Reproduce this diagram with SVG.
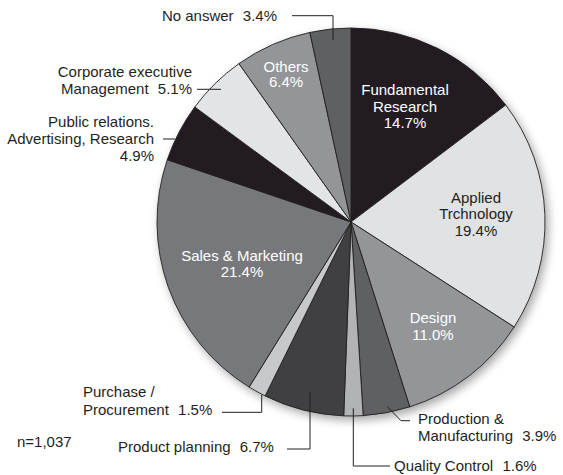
<svg xmlns="http://www.w3.org/2000/svg" width="563" height="475" viewBox="0 0 563 475">
<style>
  .lbl { font-family: "Liberation Sans", Arial, sans-serif; font-size: 15px; fill: #231f20; }
  .in { fill: #ffffff; }
  .end { text-anchor: end; }
  .mid { text-anchor: middle; }
  .slice { stroke: #231f20; stroke-width: 0.9; stroke-linejoin: round; }
  .leader { fill: none; stroke: #231f20; stroke-width: 1; }
</style>
<defs>
  <filter id="shadow" x="-10%" y="-10%" width="125%" height="125%">
    <feGaussianBlur in="SourceAlpha" stdDeviation="5"/>
    <feOffset dx="3" dy="4" result="b"/>
    <feComponentTransfer><feFuncA type="linear" slope="0.35"/></feComponentTransfer>
    <feMerge><feMergeNode/><feMergeNode in="SourceGraphic"/></feMerge>
  </filter>
</defs>
<rect width="563" height="475" fill="#ffffff"/>
<g id="pie" filter="url(#shadow)">
  <g id="fundamental-research"><path class="slice" fill="#231f20" d="M351,222 L351,28 A194,194 0 0 1 505.76,105.02 Z"/></g>
  <g id="applied-technology"><path class="slice" fill="#e1e2e3" d="M351,222 L505.76,105.02 A194,194 0 0 1 514.15,327 Z"/></g>
  <g id="design"><path class="slice" fill="#939598" d="M351,222 L514.15,327 A194,194 0 0 1 409.78,406.88 Z"/></g>
  <g id="production-manufacturing"><path class="slice" fill="#5f6062" d="M351,222 L409.78,406.88 A194,194 0 0 1 363.18,415.62 Z"/></g>
  <g id="quality-control"><path class="slice" fill="#b1b3b6" d="M351,222 L363.18,415.62 A194,194 0 0 1 343.69,415.86 Z"/></g>
  <g id="product-planning"><path class="slice" fill="#414042" d="M351,222 L343.69,415.86 A194,194 0 0 1 265.1,395.9 Z"/></g>
  <g id="purchase-procurement"><path class="slice" fill="#c7c8ca" d="M351,222 L265.1,395.9 A194,194 0 0 1 249.15,387.1 Z"/></g>
  <g id="sales-marketing"><path class="slice" fill="#77787b" d="M351,222 L249.15,387.1 A194,194 0 0 1 167.26,159.74 Z"/></g>
  <g id="public-relations"><path class="slice" fill="#231f20" d="M351,222 L167.26,159.74 A194,194 0 0 1 194.8,107 Z"/></g>
  <g id="corporate-executive"><path class="slice" fill="#e3e4e5" d="M351,222 L194.8,107 A194,194 0 0 1 238.95,63.64 Z"/></g>
  <g id="others"><path class="slice" fill="#939598" d="M351,222 L238.95,63.64 A194,194 0 0 1 309.87,32.4 Z"/></g>
  <g id="no-answer"><path class="slice" fill="#5f6062" d="M351,222 L309.87,32.4 A194,194 0 0 1 351,28 Z"/></g>
</g>
<g id="connectors">
  <path class="leader" d="M292,15.7 H333 V40"/>
  <path class="leader" d="M197,89.3 H221"/>
  <path class="leader" d="M163,139 H175"/>
  <path class="leader" d="M222,412.3 H261.7 V395"/>
  <path class="leader" d="M287,449 H310 V391.7"/>
  <path class="leader" d="M410,420.7 H401 L387.3,406.7"/>
  <path class="leader" d="M390,466 H353.3 V408.3"/>
</g>
<g id="labels">
  <text class="lbl end" x="277" y="21">No answer <tspan dx="5">3.4%</tspan></text>
  <text class="lbl end" x="192" y="77">Corporate executive</text>
  <text class="lbl end" x="192" y="94">Management <tspan dx="5">5.1%</tspan></text>
  <text class="lbl end" x="154" y="126.7">Public relations.</text>
  <text class="lbl end" x="154" y="144">Advertising, Research</text>
  <text class="lbl end" x="154" y="161">4.9%</text>
  <text class="lbl in mid" x="286" y="71.7">Others</text>
  <text class="lbl in mid" x="286" y="87.3">6.4%</text>
  <text class="lbl in mid" x="405" y="95">Fundamental</text>
  <text class="lbl in mid" x="405" y="111.7">Research</text>
  <text class="lbl in mid" x="405" y="128.3">14.7%</text>
  <text class="lbl mid" x="476" y="202.7">Applied</text>
  <text class="lbl mid" x="476" y="219.3">Trchnology</text>
  <text class="lbl mid" x="476" y="235.7">19.4%</text>
  <text class="lbl in mid" x="242" y="260.7">Sales &amp; Marketing</text>
  <text class="lbl in mid" x="242" y="276.7">21.4%</text>
  <text class="lbl in mid" x="433" y="323.3">Design</text>
  <text class="lbl in mid" x="433" y="340">11.0%</text>
  <text class="lbl" x="83" y="397.3">Purchase /</text>
  <text class="lbl" x="83" y="415">Procurement <tspan dx="5">1.5%</tspan></text>
  <text class="lbl" x="17" y="446.7">n=1,037</text>
  <text class="lbl" x="118" y="451.7">Product planning <tspan dx="5">6.7%</tspan></text>
  <text class="lbl" x="418" y="424">Production &amp;</text>
  <text class="lbl" x="418" y="440.7">Manufacturing <tspan dx="5">3.9%</tspan></text>
  <text class="lbl" x="394" y="470.7">Quality Control <tspan dx="5">1.6%</tspan></text>
</g>
</svg>
